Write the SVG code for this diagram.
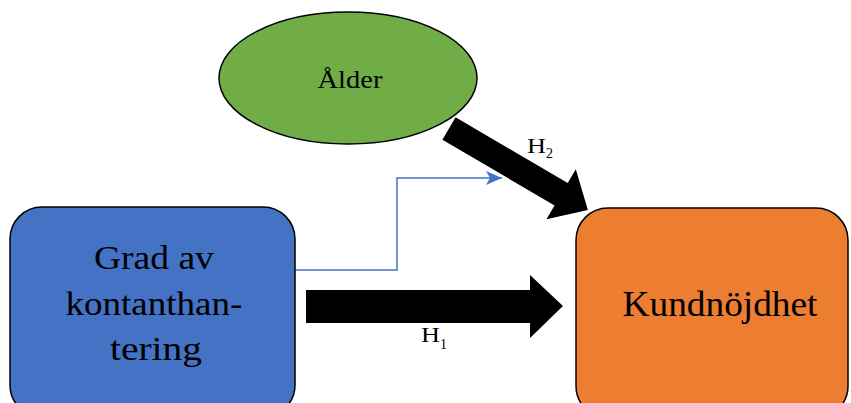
<svg xmlns="http://www.w3.org/2000/svg" width="851" height="403" viewBox="0 0 851 403">
  <style>
    .node { stroke: #000; stroke-width: 1.5; }
    .label { font-family: "Liberation Serif", "Times New Roman", serif; fill: #000; }
    .thick { fill: #000; }
    .thin { fill: none; stroke: #4472C4; stroke-width: 1.5; }
  </style>
  <defs>
    <marker id="blueHead" viewBox="0 0 10 10" refX="10" refY="5" markerWidth="16" markerHeight="14" markerUnits="userSpaceOnUse" orient="auto" preserveAspectRatio="none">
      <path d="M0,0 L10,5 L0,10 L2.5,5 Z" fill="#4472C4"/>
    </marker>
  </defs>
  <rect width="851" height="403" fill="#fff"/>

  <g id="connectors">
    <!-- thin link from the left box up towards the H2 arrow -->
    <polyline class="thin" points="295,270 397,270 397,178 502,178" marker-end="url(#blueHead)"/>
    <!-- H1: left box to right box -->
    <polygon class="thick" points="306,290 530,290 530,275 563,306 530,338 530,323 306,323"/>
    <!-- H2: ellipse to right box -->
    <polygon class="thick" transform="translate(449,128.5) rotate(30.4)" points="0,-13 130,-13 130,-29 161,0 130,29 130,13 0,13"/>
  </g>

  <g id="alder">
    <ellipse class="node" cx="348" cy="78" rx="129" ry="66" fill="#70AD47"/>
    <text class="label" x="350" y="88" font-size="25" text-anchor="middle" textLength="65" lengthAdjust="spacingAndGlyphs">Ålder</text>
  </g>

  <g id="grad">
    <rect class="node" x="10" y="207" width="285" height="210" rx="32" fill="#4472C4"/>
    <text class="label" font-size="33" text-anchor="middle">
      <tspan x="158" y="269" textLength="120" lengthAdjust="spacingAndGlyphs">Grad av</tspan>
      <tspan x="158" y="315" textLength="177" lengthAdjust="spacingAndGlyphs">kontanthan-</tspan>
      <tspan x="156" y="360" textLength="92" lengthAdjust="spacingAndGlyphs">tering</tspan>
    </text>
  </g>

  <g id="kundnojdhet">
    <rect class="node" x="576" y="208" width="272" height="210" rx="32" fill="#ED7D31"/>
    <text class="label" x="720" y="316" font-size="35" text-anchor="middle" textLength="195" lengthAdjust="spacingAndGlyphs">Kundnöjdhet</text>
  </g>

  <g id="labels">
    <text class="label" x="421" y="342" font-size="20" textLength="19" lengthAdjust="spacingAndGlyphs">H</text>
    <text class="label" x="440" y="349" font-size="14">1</text>
    <text class="label" x="527" y="153" font-size="20" textLength="19" lengthAdjust="spacingAndGlyphs">H</text>
    <text class="label" x="546" y="158" font-size="14">2</text>
  </g>
</svg>
